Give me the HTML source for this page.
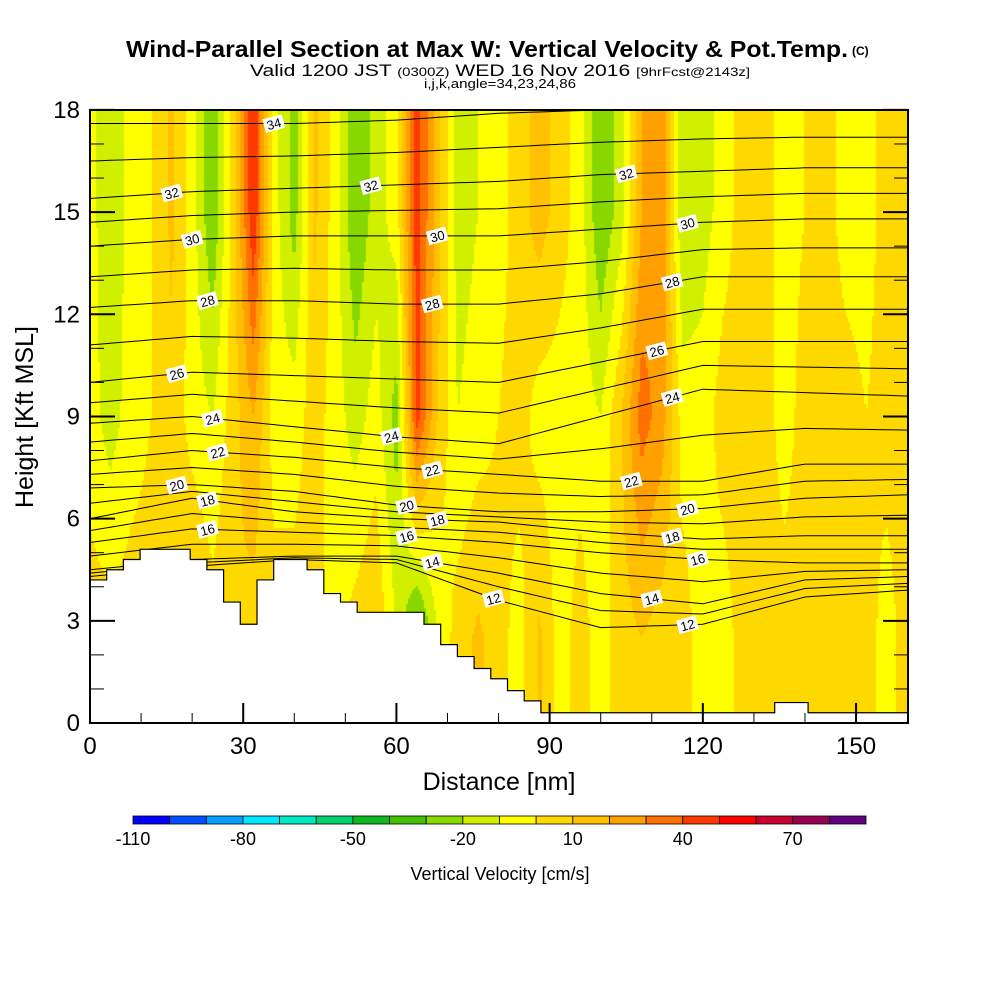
<!DOCTYPE html>
<html><head><meta charset="utf-8"><style>
body{margin:0;background:#fff;width:1000px;height:1000px;overflow:hidden;position:relative;font-family:"Liberation Sans",sans-serif}
</style></head><body>
<canvas id="fld" width="818" height="613" style="position:absolute;left:90px;top:110px"></canvas>
<svg id="svg" width="1000" height="1000" style="position:absolute;left:0;top:0">
<defs><clipPath id="pc"><rect x="90" y="110" width="818" height="613"/></clipPath></defs>
<text x="126" y="57" textLength="722" lengthAdjust="spacingAndGlyphs" font-size="23" font-weight="bold" font-family="Liberation Sans">Wind-Parallel Section at Max W: Vertical Velocity &amp; Pot.Temp.</text>
<text x="852" y="55" font-size="12" font-weight="bold" font-family="Liberation Sans">(C)</text>
<text x="250" y="76" textLength="500" lengthAdjust="spacingAndGlyphs" font-size="17" font-family="Liberation Sans">Valid 1200 JST <tspan font-size="12">(0300Z)</tspan> WED 16 Nov 2016 <tspan font-size="12">[9hrFcst@2143z]</tspan></text>
<text x="424" y="88" textLength="152" lengthAdjust="spacingAndGlyphs" font-size="13" font-family="Liberation Sans">i,j,k,angle=34,23,24,86</text>
</svg>
<script>
// vertical velocity bands (cm/s), columns every 4 nm from 0 to 160
const colNm=[0,4,8,12,16,20,24,28,32,36,40,44,48,52,56,60,64,68,72,76,80,84,88,92,96,100,104,108,112,116,120,124,128,132,136,140,144,148,152,156,160];
const upperW=[-5,-20,-5,0,12,-5,-30,5,50,-5,-25,12,-5,-30,-15,-5,45,15,-15,-10,-5,5,15,5,-5,-30,-15,20,30,-20,-15,-5,5,5,-5,0,5,-5,-5,5,0];
const midW=[-5,-15,-5,0,8,-5,-10,5,20,-5,-5,5,-5,-15,-5,-25,45,10,-10,-5,0,5,-5,-5,-5,-10,10,35,25,-5,-5,5,5,5,-5,5,5,5,0,5,5];
const lowW=[5,5,5,5,8,15,5,10,5,5,5,5,-5,5,10,-10,-40,-10,5,12,5,-5,12,-5,5,-5,5,10,5,5,-5,-5,5,5,5,5,5,5,5,-5,5];
const bandH=[2.5,9,15];
// terrain (kft), steps of 3.27 nm
const terrain=[4.2,4.5,4.8,5.1,5.1,5.1,4.8,4.5,3.55,2.9,4.2,4.8,4.8,4.5,3.8,3.55,3.25,3.25,3.25,3.25,2.9,2.3,1.95,1.6,1.3,0.95,0.65,0.3,0.3,0.3,0.3,0.3,0.3,0.3,0.3,0.3,0.3,0.3,0.3,0.3,0.3,0.6,0.6,0.3,0.3,0.3,0.3,0.3,0.3];
const terrainStep=3.27;
// potential temperature contours: heights (kft) at nodes every 20 nm
const thetaNodes=[0,20,40,60,80,100,120,140,160];
const thetaLevels=[12,14,16,18,20,22,24,26,28,30,32,34,36];
const thetaH=[
[4.3,4.6,4.8,4.7,3.6,2.8,2.9,3.7,3.9],
[4.5,4.8,4.9,4.9,4.4,3.8,3.5,4.2,4.3],
[5.3,5.7,5.6,5.5,5.3,5.0,4.8,4.7,4.7],
[6.0,6.6,6.2,6.0,5.9,5.6,5.4,5.5,5.5],
[6.9,7.0,6.8,6.4,6.2,6.2,6.3,6.6,6.7],
[7.7,8.0,7.8,7.5,7.3,7.1,7.1,7.6,7.6],
[8.8,9.0,8.7,8.4,8.2,9.0,9.8,9.7,9.6],
[10.0,10.3,10.2,10.1,10.0,10.6,11.2,11.2,11.2],
[12.2,12.4,12.4,12.3,12.3,12.6,13.1,13.1,13.1],
[14.0,14.2,14.3,14.3,14.3,14.5,14.7,14.8,14.8],
[15.4,15.6,15.7,15.8,15.9,16.1,16.2,16.3,16.3],
[17.6,17.6,17.6,17.7,17.9,18.0,18.1,18.1,18.1],
[19,19,19,19,19,19,19,19,19]];
const labelLevels=[34,32,32,32,30,30,30,28,28,28,26,26,24,24,24,22,22,22,20,20,20,18,18,18,16,16,16,14,14,12,12];
const labelNm=[36,16,55,105,20,68,117,23,67,114,17,111,24,59,114,25,67,106,17,62,117,23,68,114,23,62,119,67,110,79,117];
const velBins=[-110,-100,-90,-80,-70,-60,-50,-40,-30,-20,-10,0,10,20,30,40,50,60,70,80,90];
const velColors=["#0000ff","#0050ff","#00a0ff","#00e8ff","#00e8c0","#00d070","#10b820","#40c000","#88d800","#d0f000","#ffff00","#ffd800","#ffc000","#ffa000","#ff7000","#ff3800","#ff0000","#c80030","#980050","#600080"];
const xTicks=[0,30,60,90,120,150];
const yTicks=[0,3,6,9,12,15,18];
const cbLabels=[-110,-80,-50,-20,10,40,70];

const X0=90,Y0=723,PX=5.107,PY=34.06,W=818,H=613;
const xs=n=>X0+n*PX, ys=h=>Y0-h*PY;
function interp(nodes,vals,x){if(x<=nodes[0])return vals[0];for(let i=1;i<nodes.length;i++){if(x<=nodes[i]){const t=(x-nodes[i-1])/(nodes[i]-nodes[i-1]);return vals[i-1]*(1-t)+vals[i]*t;}}return vals[vals.length-1];}
function vel(n,h){const b=[lowW,midW,upperW].map(a=>interp(colNm,a,n));return interp(bandH,b,h);}
function col(v){for(let i=0;i<velColors.length;i++){if(v<velBins[i+1])return velColors[i];}return velColors[velColors.length-1];}
const ctx=document.getElementById('fld').getContext('2d');
for(let px=0;px<W;px+=2)for(let py=0;py<H;py+=2){const n=(px+1)/PX,h=(H-py-1)/PY;ctx.fillStyle=col(vel(n,h));ctx.fillRect(px,py,2,2);}
const svg=document.getElementById('svg'),NS='http://www.w3.org/2000/svg';
function mk(t,a,p){const e=document.createElementNS(NS,t);for(const k in a)e.setAttribute(k,a[k]);(p||svg).appendChild(e);return e;}
const cg=mk('g',{'clip-path':'url(#pc)'});


function line(hs){let d='';for(let n=0;n<=162;n+=2){const h=interp(thetaNodes,hs,n);d+=(n?'L':'M')+xs(n).toFixed(1)+','+ys(h).toFixed(1);}return d;}
thetaLevels.forEach((lv,i)=>{
 const p=mk('path',{d:line(thetaH[i]),fill:'none',stroke:'#000','stroke-width':1},cg);
 
 
 if(i<thetaLevels.length-1){const mid=thetaH[i].map((v,j)=>(v+thetaH[i+1][j])/2);
 const q=mk('path',{d:line(mid),fill:'none',stroke:'#000','stroke-width':1},cg);
 
 }
});
let td='M'+X0+','+Y0;
terrain.forEach((h,i)=>{const a=xs(i*terrainStep),b=Math.min(xs((i+1)*terrainStep),908);td+='L'+a+','+ys(h)+'L'+b+','+ys(h);});
td+='L908,'+Y0+'Z';
const tp=mk('path',{d:td,fill:'#fff',stroke:'#000','stroke-width':1.2});


labelLevels.forEach((lv,i)=>{const idx=thetaLevels.indexOf(lv);const n=labelNm[i];const h=interp(thetaNodes,thetaH[idx],n);
 const g=mk('g',{transform:`translate(${xs(n)},${ys(h)}) rotate(-15)`});
 
 
 mk('rect',{x:-10,y:-7,width:20,height:14,fill:'#fff'},g);
 const t=mk('text',{x:0,y:5,'text-anchor':'middle','font-size':13,'font-family':'Liberation Sans'},g);t.textContent=lv;});
const fr=mk('rect',{x:90,y:110,width:818,height:613,fill:'none',stroke:'#000','stroke-width':2});


for(let k=0;k<=18;k++){const y=ys(k),L=(k%3==0)?25:14;mk('line',{x1:90,x2:90+L,y1:y,y2:y,stroke:'#000','stroke-width':k%3==0?2:1});mk('line',{x1:908,x2:908-L,y1:y,y2:y,stroke:'#000','stroke-width':k%3==0?2:1});}
for(let n=0;n<=158;n+=10){const x=xs(n),L=(n%30==0)?20:10;mk('line',{x1:x,x2:x,y1:723,y2:723-L,stroke:'#000','stroke-width':n%30==0?2:1});}
yTicks.forEach(v=>{const t=mk('text',{x:80,y:ys(v)+8,'text-anchor':'end','font-size':24,'font-family':'Liberation Sans'});t.textContent=v;
 });
xTicks.forEach(v=>{const t=mk('text',{x:xs(v),y:754,'text-anchor':'middle','font-size':24,'font-family':'Liberation Sans'});t.textContent=v;
 });
const xt=mk('text',{x:499,y:790,'text-anchor':'middle','font-size':25,'font-family':'Liberation Sans'});xt.textContent='Distance [nm]';

const yt=mk('text',{x:0,y:0,transform:'translate(33,417) rotate(-90)','text-anchor':'middle','font-size':25,'font-family':'Liberation Sans'});yt.textContent='Height [Kft MSL]';

const CB0=133,CBW=733/velColors.length;
velColors.forEach((c,i)=>{const r=mk('rect',{x:CB0+i*CBW,y:816,width:CBW,height:8,fill:c,stroke:'#000','stroke-width':0.8});
 });
cbLabels.forEach(v=>{const i=(v-velBins[0])/10;const t=mk('text',{x:CB0+i*CBW,y:845,'text-anchor':'middle','font-size':18,'font-family':'Liberation Sans'});t.textContent=v;
 });
const ct=mk('text',{x:500,y:880,'text-anchor':'middle','font-size':18,'font-family':'Liberation Sans'});ct.textContent='Vertical Velocity [cm/s]';

</script>
</body></html>
